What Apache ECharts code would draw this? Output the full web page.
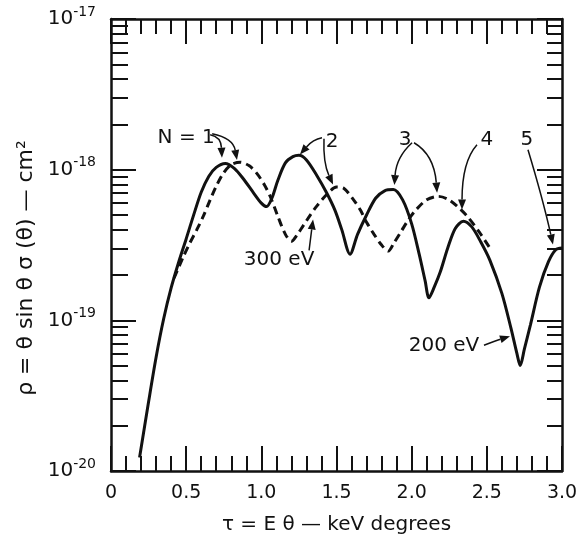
<!DOCTYPE html>
<html>
<head>
<meta charset="utf-8">
<script src="https://cdn.jsdelivr.net/npm/echarts@6/dist/echarts.min.js"></script>
<style>
  html, body { margin: 0; padding: 0; background: #fff; }
  #chart { width: 579px; height: 543px; }
</style>
</head>
<body>
<div id="chart"></div>
<script>
// 200 eV curve (solid)
var tau200 = [0.19, 0.25, 0.30, 0.35, 0.40, 0.45, 0.50, 0.55, 0.60, 0.65, 0.70, 0.76, 0.82, 0.88, 0.95, 1.00,
  1.035, 1.07, 1.11, 1.16, 1.21, 1.25, 1.30, 1.37, 1.435, 1.49, 1.535, 1.59, 1.64, 1.70, 1.76, 1.82, 1.878,
  1.94, 2.00, 2.05, 2.09, 2.115, 2.15, 2.19, 2.24, 2.29, 2.344, 2.40, 2.46, 2.52, 2.60, 2.66, 2.70, 2.722,
  2.75, 2.79, 2.85, 2.91, 2.96, 3.00];
var rho200 = [1.23e-20, 2.88e-20, 5.69e-20, 1.02e-19, 1.64e-19, 2.43e-19, 3.47e-19, 5.01e-19, 7.08e-19, 9.02e-19, 1.035e-18, 1.10e-18, 1.02e-18, 8.7e-19, 6.97e-19, 6.0e-19,
  5.69e-19, 6.46e-19, 8.51e-19, 1.11e-18, 1.22e-18, 1.245e-18, 1.16e-18, 9.12e-19, 7.0e-19, 5.37e-19, 4.0e-19, 2.75e-19, 3.72e-19, 5.0e-19, 6.46e-19, 7.24e-19, 7.38e-19,
  6.3e-19, 4.37e-19, 2.75e-19, 1.82e-19, 1.41e-19, 1.66e-19, 2.09e-19, 3.02e-19, 4.07e-19, 4.55e-19, 4.17e-19, 3.31e-19, 2.51e-19, 1.51e-19, 8.91e-20, 6.03e-20, 5.01e-20,
  6.46e-20, 9.33e-20, 1.66e-19, 2.45e-19, 2.95e-19, 3.02e-19];

// 300 eV curve (dashed)
var tau300 = [0.42, 0.48, 0.525, 0.57, 0.614, 0.66, 0.70, 0.75, 0.80, 0.86, 0.92, 0.97, 1.02, 1.06, 1.11, 1.16,
  1.20, 1.24, 1.28, 1.33, 1.37, 1.43, 1.50, 1.55, 1.61, 1.66, 1.70, 1.75, 1.80, 1.845, 1.88, 1.93, 1.98,
  2.03, 2.10, 2.177, 2.24, 2.30, 2.37, 2.45, 2.52];
var rho300 = [1.91e-19, 2.63e-19, 3.27e-19, 3.98e-19, 4.91e-19, 6.31e-19, 7.76e-19, 9.55e-19, 1.08e-18, 1.12e-18, 1.06e-18, 9.44e-19, 7.94e-19, 6.61e-19, 4.9e-19, 3.72e-19,
  3.35e-19, 3.72e-19, 4.27e-19, 5.07e-19, 5.75e-19, 6.76e-19, 7.67e-19, 7.5e-19, 6.38e-19, 5.37e-19, 4.47e-19, 3.72e-19, 3.16e-19, 2.88e-19, 3.24e-19, 3.89e-19, 4.68e-19,
  5.43e-19, 6.31e-19, 6.65e-19, 6.38e-19, 5.75e-19, 4.9e-19, 3.85e-19, 3.02e-19];

var yDecades = [1e-20, 1e-19, 1e-18, 1e-17];
var yMinor = [];
[1e-20, 1e-19, 1e-18].forEach(function (d) {
  for (var m = 2; m <= 9; m++) yMinor.push(m * d);
});

// labels with arrows: text at data point, arrows start at pixel offset from text,
// end on a data point, ctrl = bend point offset from arrow tip
var notes = [
  { text: 'N = 1', at: [0.50, 1.63e-18], arrows: [
    { from: [24, -3], to: [0.738, 1.2e-18], ctrl: [-1, -21] },
    { from: [26, -4], to: [0.838, 1.16e-18], ctrl: [-4, -22] }] },
  { text: '2', at: [1.47, 1.53e-18], arrows: [
    { from: [-10, -4], to: [1.257, 1.26e-18], ctrl: [13, -15] },
    { from: [-8, -3], to: [1.477, 7.96e-19], ctrl: [-10, -22] }] },
  { text: '3', at: [1.956, 1.58e-18], arrows: [
    { from: [7, 3], to: [1.885, 7.9e-19], ctrl: [2, -28] },
    { from: [9, 3], to: [2.169, 7.04e-19], ctrl: [-3, -38] }] },
  { text: '4', at: [2.501, 1.58e-18], arrows: [
    { from: [-10, 5], to: [2.335, 5.43e-19], ctrl: [0, -48] }] },
  { text: '5', at: [2.767, 1.58e-18], arrows: [
    { from: [1, 10], to: [2.94, 3.19e-19], ctrl: [-10, -45] }] },
  { text: '300 eV', at: [1.118, 2.54e-19], arrows: [
    { from: [30, -9], to: [1.344, 4.67e-19], ctrl: [-2, 15] }] },
  { text: '200 eV', at: [2.215, 6.73e-20], arrows: [
    { from: [40, -1], to: [2.654, 7.83e-20], ctrl: [-13, 4] }] }
];

function zip(a, b) {
  return a.map(function (v, i) { return [v, b[i]]; });
}

var FONT = '"DejaVu Sans", sans-serif';
var INK = '#111';

var chart = echarts.init(document.getElementById('chart'));

function xAxisCfg(pos, labels) {
  return {
    type: 'value', position: pos, min: 0, max: 3, interval: 0.5,
    axisLine: { show: true, lineStyle: { color: INK, width: 2.5 } },
    axisTick: { show: true, inside: true, length: 25, lineStyle: { color: INK, width: 2 } },
    minorTick: { show: true, splitNumber: 5, length: 15, lineStyle: { color: INK, width: 2 } },
    splitLine: { show: false },
    axisLabel: {
      show: labels, margin: 13, color: INK, fontFamily: FONT, fontSize: 19,
      formatter: function (v) { return v === 0 ? '0' : v.toFixed(1); }
    },
    name: labels ? 'τ = E θ — keV degrees' : '',
    nameLocation: 'middle', nameGap: 44,
    nameTextStyle: { color: INK, fontFamily: FONT, fontSize: 20 }
  };
}

function yAxisCfg(pos, values, len, labels, line) {
  return {
    type: 'log', logBase: 10, position: pos, min: 1e-20, max: 1e-17,
    axisLine: { show: line, lineStyle: { color: INK, width: 2.5 } },
    axisTick: { show: true, inside: true, length: len, customValues: values, lineStyle: { color: INK, width: 2 } },
    splitLine: { show: false },
    axisLabel: {
      show: labels, margin: 15, color: INK, fontFamily: FONT, customValues: yDecades,
      formatter: function (v) {
        return '{b|10}{s|-' + Math.round(-Math.log10(v)) + '}';
      },
      rich: {
        b: { fontSize: 20, lineHeight: 28, fontFamily: FONT, color: INK },
        s: { fontSize: 14, verticalAlign: 'top', fontFamily: FONT, color: INK }
      }
    },
    name: labels ? 'ρ = θ sin θ σ (θ) — cm²' : '',
    nameLocation: 'middle', nameGap: 72, nameRotate: 90,
    nameTextStyle: { color: INK, fontFamily: FONT, fontSize: 22, padding: [0, 46, 0, 0] }
  };
}

chart.setOption({
  backgroundColor: '#fff',
  animation: false,
  grid: { left: 111, right: 17, top: 19, bottom: 72, outerBoundsMode: 'none' },
  xAxis: [xAxisCfg('bottom', true), xAxisCfg('top', false)],
  yAxis: [
    yAxisCfg('left', yDecades, 25, true, true),
    yAxisCfg('left', yMinor, 17, false, false),
    yAxisCfg('right', yDecades, 25, false, true),
    yAxisCfg('right', yMinor, 15, false, false)
  ],
  series: [
    {
      name: '200 eV', type: 'line', data: zip(tau200, rho200), showSymbol: false, smooth: 0.3,
      lineStyle: { color: INK, width: 3 }
    },
    {
      name: '300 eV', type: 'line', data: zip(tau300, rho300), showSymbol: false, smooth: 0.3,
      lineStyle: { color: INK, width: 3, type: [8, 5] }
    }
  ]
});

function drawNotes() {
  var els = [];
  notes.forEach(function (n) {
    var c = chart.convertToPixel({ gridIndex: 0 }, n.at);
    els.push({
      type: 'text', x: c[0], y: c[1],
      style: { text: n.text, font: '20px ' + FONT, fill: INK, align: 'center', verticalAlign: 'middle' }
    });
    n.arrows.forEach(function (a) {
      var t = chart.convertToPixel({ gridIndex: 0 }, a.to);
      var s = [c[0] + a.from[0], c[1] + a.from[1]];
      var k = [t[0] + a.ctrl[0], t[1] + a.ctrl[1]];
      var dx = t[0] - k[0], dy = t[1] - k[1];
      var L = Math.sqrt(dx * dx + dy * dy);
      dx /= L; dy /= L;
      var hl = 10, hw = 4;
      var b = [t[0] - dx * hl, t[1] - dy * hl];
      els.push({
        type: 'bezierCurve',
        shape: { x1: s[0], y1: s[1], cpx1: k[0], cpy1: k[1], x2: b[0], y2: b[1] },
        style: { stroke: INK, lineWidth: 1.5, fill: null }
      });
      els.push({
        type: 'polygon',
        shape: { points: [t, [b[0] - dy * hw, b[1] + dx * hw], [b[0] + dy * hw, b[1] - dx * hw]] },
        style: { fill: INK }
      });
    });
  });
  chart.setOption({ graphic: els });
}
drawNotes();
</script>
</body>
</html>
